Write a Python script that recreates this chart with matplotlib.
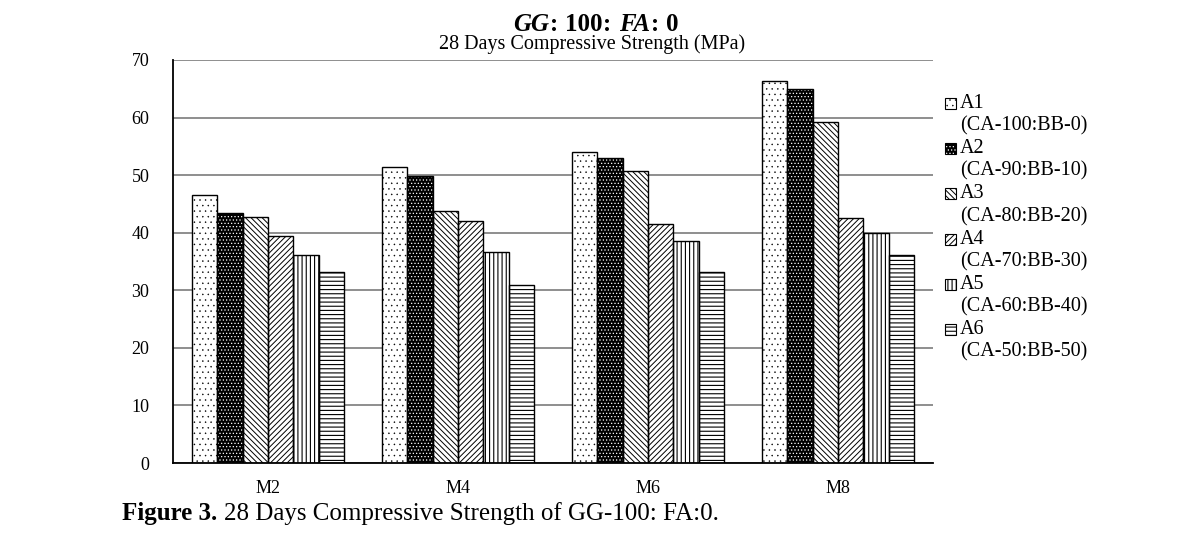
"""28 days compressive strength, GG-100: FA:0 — grouped hatched bars."""
import numpy as np
import matplotlib.pyplot as plt
import matplotlib.patches as mpatches

plt.rcParams.update({
    "font.family": "serif",
    "font.serif": ["Liberation Serif", "DejaVu Serif"],
    "hatch.linewidth": 0.7,
})

W, H = 1184, 534

categories = ["M2", "M4", "M6", "M8"]
series = ["A1", "A2", "A3", "A4", "A5", "A6"]
series_sub = ["(CA-100:BB-0)", "(CA-90:BB-10)", "(CA-80:BB-20)",
              "(CA-70:BB-30)", "(CA-60:BB-40)", "(CA-50:BB-50)"]
a1 = [46.5, 51.5, 54.0, 66.3]
a2 = [43.4, 49.9, 52.9, 64.9]
a3 = [42.7, 43.7, 50.8, 59.2]
a4 = [39.4, 42.0, 41.6, 42.5]
a5 = [36.1, 36.6, 38.5, 40.0]
a6 = [33.1, 31.0, 33.2, 36.1]
values = [a1, a2, a3, a4, a5, a6]

# (facecolor, hatchcolor, hatch, hatch linewidth)
STYLES = [
    ("white", "black", "...", 0.3),
    ("black", "white", ".....", 0.5),
    ("white", "black", "\\" * 6, 0.7),
    ("white", "black", "/" * 6, 0.7),
    ("white", "black", "||||", 0.8),
    ("white", "black", "----", 0.8),
]


def fx(px):
    return px / W


def fy(py):
    return 1 - py / H


fig = plt.figure(figsize=(W / 100, H / 100), dpi=100)
ax = fig.add_axes([fx(173), fy(463), fx(933 - 173), (463 - 60) / H])

x = np.arange(len(categories))
n = len(series)
group_w = 0.8
bw = group_w / n

for i, (vals, (fc, hc, hatch, hlw)) in enumerate(zip(values, STYLES)):
    pos = x - group_w / 2 + bw * (i + 0.5)
    plt.rcParams["hatch.linewidth"] = hlw
    # fill + hatch (hatch colour comes from edgecolor)
    ax.bar(pos, vals, bw, facecolor=fc, edgecolor=hc, hatch=hatch,
           linewidth=0, zorder=3)
    ax.bar(pos, vals, bw, fill=False, edgecolor="black", linewidth=1.0, zorder=4)

ax.set_xlim(-0.5, len(categories) - 0.5)
ax.set_ylim(0, 70)
ax.set_yticks(range(0, 71, 10))
ax.set_xticks(x)
ax.set_xticklabels(categories)
ax.tick_params(axis="both", length=0, labelsize=13)
ax.tick_params(axis="x", pad=12)
ax.tick_params(axis="y", pad=17)
ax.yaxis.grid(True, color="#868686", linewidth=1.3, zorder=0)
ax.set_axisbelow(True)
for s in ["top", "right"]:
    ax.spines[s].set_visible(False)
for s in ["left", "bottom"]:
    ax.spines[s].set_color("black")
    ax.spines[s].set_linewidth(1.3)
    ax.spines[s].set_zorder(5)

# ── legend, drawn by hand: square + "A1", second line below ─────
LEG_X, LEG_Y0, LEG_PITCH, SQ = 945, 103.5, 22.6, 11
for i, (fc, hc, hatch, hlw) in enumerate(STYLES):
    yc = LEG_Y0 + 2 * i * LEG_PITCH
    plt.rcParams["hatch.linewidth"] = hlw
    fig.add_artist(mpatches.Rectangle(
        (fx(LEG_X), fy(yc + SQ / 2)), SQ / W, SQ / H, transform=fig.transFigure,
        facecolor=fc, edgecolor=hc, hatch=hatch, linewidth=0))
    fig.add_artist(mpatches.Rectangle(
        (fx(LEG_X), fy(yc + SQ / 2)), SQ / W, SQ / H, transform=fig.transFigure,
        fill=False, edgecolor="black", linewidth=0.8))
    fig.text(fx(960), fy(yc), series[i], ha="left", va="center", fontsize=14.5)
    fig.text(fx(960), fy(yc + LEG_PITCH), series_sub[i], ha="left", va="center",
             fontsize=14.5)

# ── titles and caption, built from pieces of different weight ───
renderer = fig.canvas.get_renderer()


def run_text(pieces, x0, y, size, center=False):
    texts = []
    for s, weight, style, gap in pieces:
        t = fig.text(0, fy(y), s, fontsize=size, fontweight=weight, fontstyle=style,
                     ha="left", va="baseline")
        texts.append((t, gap))
    widths = [t.get_window_extent(renderer).width for t, _ in texts]
    gaps = [g * size * 100 / 72 for _, g in texts]
    total = sum(widths) + sum(gaps[:-1])
    xp = x0 - total / 2 if center else x0
    for (t, _), w, g in zip(texts, widths, gaps):
        t.set_x(fx(xp))
        xp += w + g


run_text([("GG", "bold", "italic", 0.02),
          (":", "bold", "normal", 0.3),
          ("100", "bold", "normal", 0.02),
          (":", "bold", "normal", 0.3),
          ("FA", "bold", "italic", 0.02),
          (":", "bold", "normal", 0.3),
          ("0", "bold", "normal", 0.0)], W / 2 + 4, 31, 18, center=True)
fig.text(0.5, fy(44), "28 Days Compressive Strength (MPa)",
         ha="center", va="center", fontsize=14.5)

run_text([("Figure 3.", "bold", "normal", 0.25),
          ("28 Days Compressive Strength of GG-100: FA:0.", "normal", "normal", 0.0)],
         122, 520, 18)

fig.savefig("out.png", dpi=100)
